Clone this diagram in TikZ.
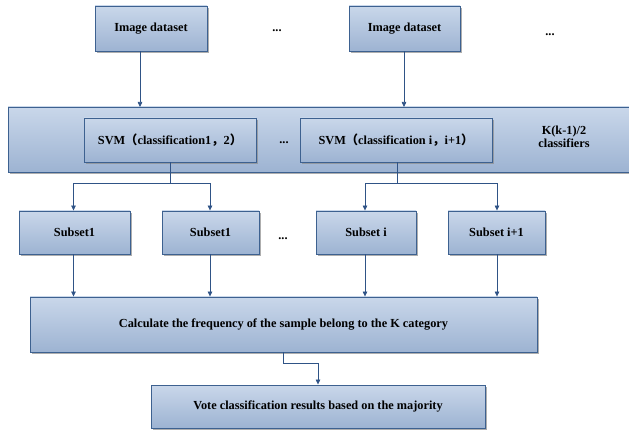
\documentclass[tikz,border=0pt]{standalone}
\usepackage{fontspec}
\setmainfont{Liberation Serif}
\newfontfamily\cjk{Noto Sans CJK SC}
\usetikzlibrary{arrows.meta,shadows}
\definecolor{boxtop}{HTML}{C9D7EA}
\definecolor{boxbot}{HTML}{9DB3D2}
\definecolor{boxline}{HTML}{3D6190}
\definecolor{arr}{HTML}{2F5386}
\tikzset{
  bx/.style={draw=boxline, line width=0.9pt, top color=boxtop, bottom color=boxbot,
    minimum width=#1, inner sep=0pt, font=\bfseries\fontsize{12.3}{13.5}\selectfont, align=center,
    drop shadow={shadow xshift=1.8pt, shadow yshift=-1.8pt, fill=black!45, opacity=0.7}},
  lbl/.style={font=\bfseries\fontsize{12.3}{13.5}\selectfont, inner sep=0pt, align=center},
  con/.style={draw=arr, line width=0.7pt},
  arw/.style={con, -{Triangle[length=5pt,width=4.5pt]}},
}
\begin{document}
\begin{tikzpicture}[x=1pt,y=-1pt]
\clip (0,0) rectangle (629,430);
\useasboundingbox (0,0) rectangle (629,430);
% top inputs
\node[bx=112pt, minimum height=45pt] (img1) at (151,28.5) {Image dataset};
\node[bx=111pt, minimum height=45pt] (img2) at (404.5,28.5) {Image dataset};
\node[lbl] (d1) at (277,31) {...};
\node[lbl] (d2) at (550,35) {...};
% band
\node[bx=632pt, minimum height=65pt] (band) at (324,139.5) {};
\node[bx=172pt, minimum height=44pt] (svm1) at (170,140) {SVM{\cjk （}classification1{\cjk ，}2{\cjk ）}};
\node[bx=192pt, minimum height=44pt] (svm2) at (396,140) {SVM{\cjk （}classification i{\cjk ，}i+1{\cjk ）}};
\node[lbl] (d3) at (284,143) {...};
\node[lbl] (kk) at (564,137) {K(k-1)/2\\[-1pt]classifiers};
% arrows into band
\coordinate (a1) at (140,107);
\coordinate (a2) at (404,107);
\draw[arw] (img1.south -| a1) -- (a1);
\draw[arw] (img2.south -| a2) -- (a2);
% subsets
\node[bx=111pt, minimum height=43pt] (s1) at (74.5,232.5) {Subset1};
\node[bx=97pt, minimum height=43pt] (s2) at (210.5,232.5) {Subset1};
\node[bx=100pt, minimum height=43pt] (s3) at (366,232.5) {Subset i};
\node[bx=97pt, minimum height=43pt] (s4) at (496.5,232.5) {Subset i+1};
\node[lbl] (d4) at (283,239) {...};
% split connectors
\coordinate (j1) at (170,183);
\coordinate (j2) at (397,183);
\draw[con] (svm1.south) -- (j1);
\draw[arw] (j1) -| (s1.north -| 73.5,0);
\draw[arw] (j1) -| (s2.north -| 210,0);
\draw[con] (svm2.south -| j2) -- (j2);
\draw[arw] (j2) -| (s3.north -| 365,0);
\draw[arw] (j2) -| (s4.north -| 497,0);
% calc
\node[bx=507pt, minimum height=55pt] (calc) at (283.5,324.5) {Calculate the frequency of the sample belong to the K category};
\draw[arw] (s1.south -| 73.5,0) -- (calc.north -| 73.5,0);
\draw[arw] (s2.south -| 210,0) -- (calc.north -| 210,0);
\draw[arw] (s3.south -| 365,0) -- (calc.north -| 365,0);
\draw[arw] (s4.south -| 497,0) -- (calc.north -| 497,0);
% vote
\node[bx=334pt, minimum height=43pt] (vote) at (318,406.5) {Vote classification results based on the majority};
\coordinate (b1) at (283,363);
\draw[arw] (calc.south -| b1) -- (b1) -| (vote.north);
\end{tikzpicture}
\end{document}
